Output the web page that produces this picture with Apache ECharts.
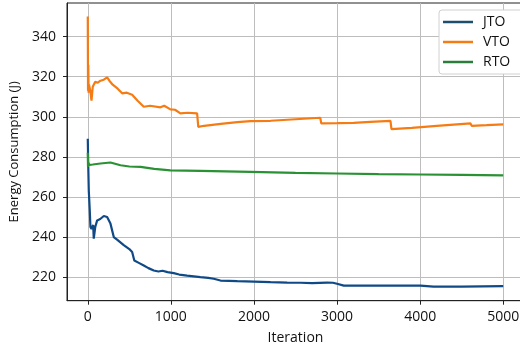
<!DOCTYPE html>
<html>
<head>
<meta charset="utf-8">
<script src="https://cdn.jsdelivr.net/npm/echarts@6/dist/echarts.min.js"></script>
<style>html,body{margin:0;padding:0;background:#fff;}#c{width:520px;height:347px;}</style>
</head>
<body>
<div id="c"></div>
<script>
const seriesNames = ['JTO', 'VTO', 'RTO'];
const xTicks = [0, 1000, 2000, 3000, 4000, 5000];
const yTicks = [220, 240, 260, 280, 300, 320, 340];

const jtoIter = [0, 6, 12, 24, 32, 45, 60, 65, 72, 90, 113, 150, 193, 233, 273, 313, 360, 433, 500, 534, 560, 620, 674, 730, 794, 850, 900, 915, 960, 1035, 1100, 1196, 1356, 1450, 1516, 1597, 1800, 1998, 2200, 2400, 2560, 2700, 2881, 2950, 3000, 3081, 3300, 3600, 4004, 4160, 4500, 5000];
const jtoVal  = [289, 275, 263.3, 253.3, 245, 244, 243.3, 246, 239.2, 245, 248.3, 249, 250.5, 250, 246.7, 240, 238.5, 236, 234, 232.5, 228.3, 227, 225.8, 224.5, 223.3, 222.8, 223.2, 223.3, 222.5, 222, 221.3, 220.8, 220, 219.6, 219.2, 218.3, 218, 217.8, 217.5, 217.3, 217.2, 217, 217.3, 217.2, 216.7, 215.8, 215.8, 215.8, 215.8, 215.3, 215.3, 215.5];

const vtoIter = [0, 3, 6, 10, 15, 30, 45, 60, 72, 90, 120, 153, 193, 233, 260, 300, 360, 414, 470, 534, 600, 674, 750, 875, 920, 995, 1050, 1115, 1200, 1316, 1330, 1400, 1600, 1800, 1958, 2200, 2400, 2600, 2798, 2810, 3000, 3200, 3400, 3643, 3655, 3900, 4200, 4606, 4620, 4800, 5000];
const vtoVal  = [350, 313, 326, 312, 316, 313, 308, 315, 316, 317.5, 317, 318, 318.5, 319.7, 318, 316, 314, 311.7, 312, 311, 308, 305, 305.5, 304.7, 305.5, 303.7, 303.5, 301.7, 302, 301.7, 295, 295.5, 296.5, 297.3, 297.8, 298, 298.5, 299, 299.5, 296.7, 296.8, 297, 297.5, 298, 293.8, 294.5, 295.5, 296.7, 295.5, 295.8, 296.2];

const rtoIter = [0, 3, 8, 20, 60, 153, 273, 394, 500, 635, 800, 995, 1356, 1958, 2500, 3000, 3500, 4004, 4500, 5000];
const rtoVal  = [282, 275, 277, 276, 276.2, 276.7, 277.2, 275.8, 275.2, 275, 274, 273.3, 273, 272.5, 272, 271.7, 271.4, 271.2, 271, 270.8];

function pairs(xs, ys) { return xs.map((x, i) => [x, ys[i]]); }

const FONT = '"Open Sans", "DejaVu Sans", sans-serif';
const colors = ['#0f4a87', '#f57c14', '#2a9134'];
const legendColors = ['#1d4e6b', '#f57c14', '#2a7d3a'];

const chart = echarts.init(document.getElementById('c'), null, {renderer: 'canvas'});
chart.setOption({
  animation: false,
  backgroundColor: '#fff',
  grid: {left: 67, top: 3, width: 457, height: 297.7, outerBoundsMode: 'none', containLabel: false,
         show: true, borderColor: '#222', borderWidth: 1, backgroundColor: 'transparent'},
  legend: {
    orient: 'vertical', left: 439, top: 10,
    data: seriesNames.map((n, i) => ({name: n, icon: 'path://M0 0H30V2.5H0Z', itemStyle: {color: legendColors[i]}})),
    itemWidth: 30, itemHeight: 14, itemGap: 6,
    padding: [5, 30, 5, 4],
    backgroundColor: '#fff', borderColor: '#d0d0d0', borderWidth: 1, borderRadius: 3,
    textStyle: {fontFamily: FONT, fontSize: 14, color: '#111', padding: [0, 0, 0, 5]}
  },
  xAxis: {
    type: 'value', min: -250, max: 5250, interval: 1000,
    name: 'Iteration', nameLocation: 'middle', nameGap: 30,
    nameTextStyle: {fontFamily: FONT, fontSize: 14, color: '#111'},
    axisLine: {show: true, onZero: false, lineStyle: {color: '#222', width: 1}},
    axisTick: {show: true, length: 4, lineStyle: {color: '#222'}, customValues: xTicks},
    axisLabel: {fontFamily: FONT, fontSize: 14, color: '#111', margin: 9, customValues: xTicks, formatter: v => String(v)},
    splitLine: {show: true, lineStyle: {color: '#bdbdbd', width: 1}}
  },
  yAxis: {
    type: 'value', min: 208.25, max: 356.75, interval: 20,
    name: 'Energy Consumption (J)', nameLocation: 'middle', nameGap: 43,
    nameTextStyle: {fontFamily: FONT, fontSize: 13, color: '#111'},
    axisLine: {show: true, onZero: false, lineStyle: {color: '#222', width: 1}},
    axisTick: {show: true, length: 4, lineStyle: {color: '#222'}, customValues: yTicks},
    axisLabel: {fontFamily: FONT, fontSize: 14, color: '#111', margin: 11, customValues: yTicks, formatter: v => String(v)},
    splitLine: {show: true, lineStyle: {color: '#bdbdbd', width: 1}}
  },
  series: [
    {name: 'JTO', type: 'line', data: pairs(jtoIter, jtoVal), symbol: 'none', color: colors[0], lineStyle: {width: 2.2, color: colors[0]}, z: 3},
    {name: 'VTO', type: 'line', data: pairs(vtoIter, vtoVal), symbol: 'none', color: colors[1], lineStyle: {width: 2.2, color: colors[1]}, z: 3},
    {name: 'RTO', type: 'line', data: pairs(rtoIter, rtoVal), symbol: 'none', color: colors[2], lineStyle: {width: 2.2, color: colors[2]}, z: 3}
  ]
});
</script>
</body>
</html>
